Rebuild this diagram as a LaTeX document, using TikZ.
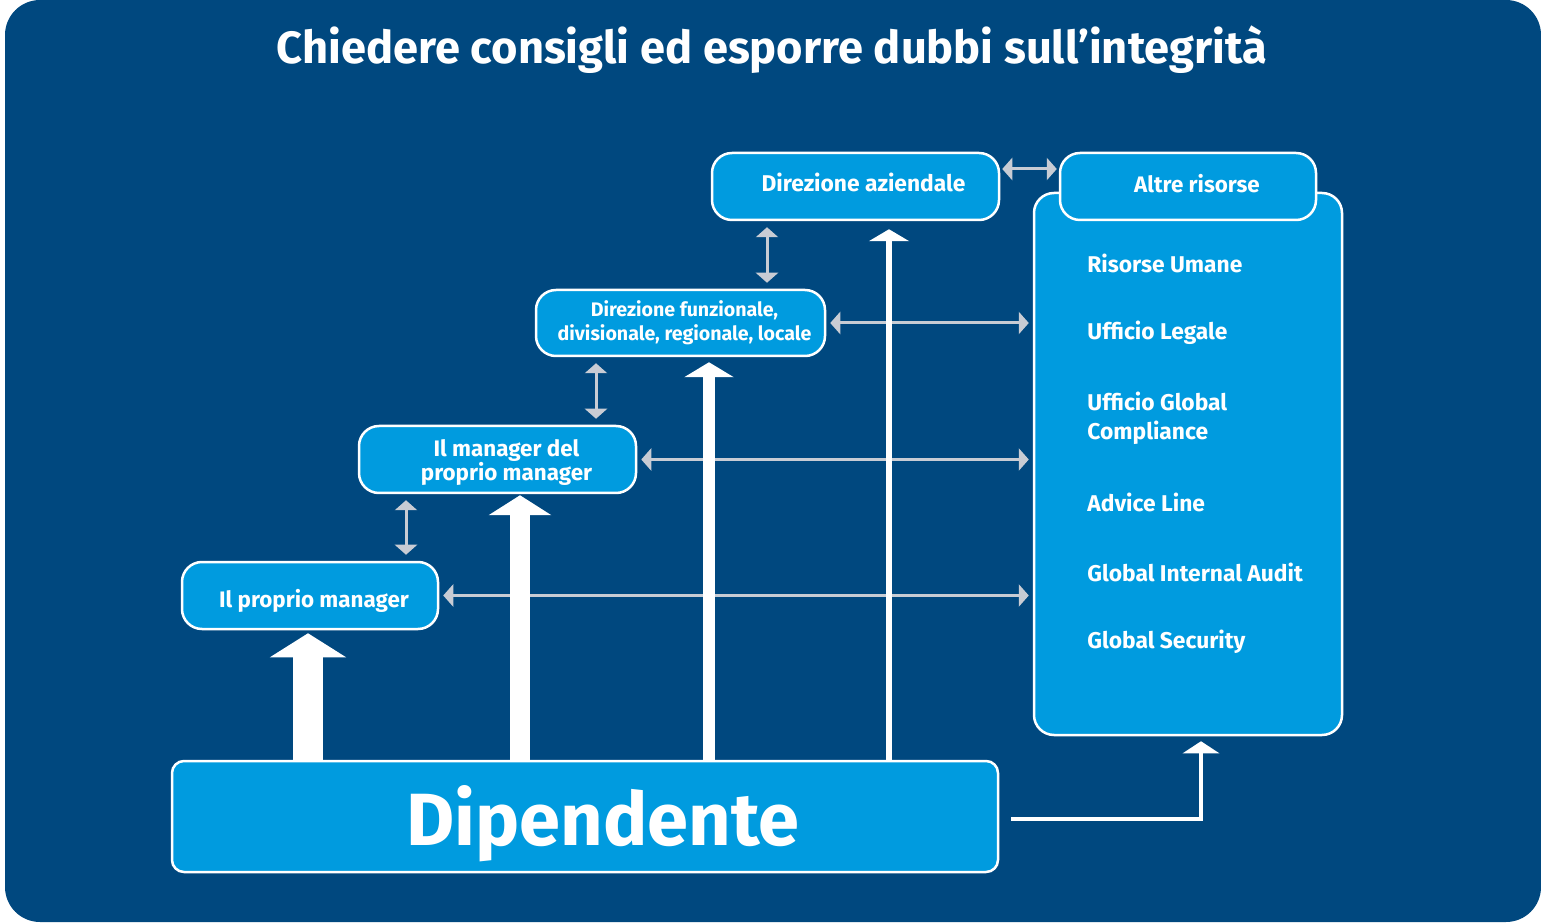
\documentclass[tikz,border=0pt]{standalone}
\usepackage{fontspec}
\setmainfont{Fira Sans}
\usetikzlibrary{arrows.meta}
\usetikzlibrary{calc}
\definecolor{sonydark}{HTML}{00487F}
\definecolor{sonylight}{HTML}{009BDF}
\definecolor{arrowgray}{HTML}{C8CCD4}
\tikzset{
    box/.style={draw=white,line width=1.25pt,fill=sonylight,rounded corners=10pt,text=white,font=\bfseries,align=center,inner sep=0pt},
    item/.style={text=white,font=\bfseries\fontsize{11.4}{14.5}\selectfont,align=left,anchor=west,inner sep=0pt},
    twoway/.style={arrowgray,line width=1.5pt,{Triangle[width=11pt,length=5pt]}-{Triangle[width=11pt,length=5pt]},shorten <=2pt,shorten >=2pt},
    bigup/.style n args={3}{white,line width=#1,-{Triangle[width=#2,length=#3]}}
}

\begin{document}
\begin{tikzpicture}[x=0.5pt,y=-0.5pt]
    	\useasboundingbox (0,0) rectangle (1541,924);
    	\fill[sonydark,rounded corners=17.5pt] (5,0) rectangle (1541,922);

    	\node[text=white,font=\bfseries\fontsize{22.6}{26}\selectfont,anchor=base] (title) at (772,64) {Chiedere consigli ed esporre dubbi sull’integrità};

    	% boxes
    	\node[box,minimum width=154pt,minimum height=271pt] (res) at (1188,464) {};
    	\node[box,minimum width=128pt,minimum height=33.5pt,text height=6.5pt,text depth=0pt,font=\bfseries\fontsize{11.2}{13}\selectfont] (altre) at (1188,186.5) {\hspace{9pt}Altre risorse};
    	\node[box,minimum width=143.5pt,minimum height=33.5pt,text height=5.5pt,text depth=0pt,font=\bfseries\fontsize{11.4}{13}\selectfont] (dirAz) at (855.5,186.5) {\hspace{8pt}Direzione aziendale};
    	\node[box,minimum width=144.5pt,minimum height=33pt,font=\bfseries\fontsize{9.8}{12}\selectfont] (dirFun) at (680.5,323) {\hspace{4pt}Direzione funzionale,\\\hspace{4pt}divisionale, regionale, locale};
    	\node[box,minimum width=138.5pt,minimum height=33.5pt,font=\bfseries\fontsize{11.2}{12}\selectfont] (mgrMgr) at (497.5,459.5) {\hspace{9pt}\rule{0pt}{11.5pt}Il manager del\\\hspace{9pt}proprio manager};
    	\node[box,minimum width=128pt,minimum height=33.5pt,text height=11.5pt,text depth=0pt,font=\bfseries\fontsize{11.2}{12}\selectfont] (mgr) at (310,595.5) {\hspace{4pt}Il proprio manager};
    	\node[box,minimum width=413pt,minimum height=55.5pt,text height=28.5pt,text depth=0pt,rounded corners=6pt,font=\bfseries\fontsize{37}{40}\selectfont] (dip) at (585,816.5) {\hspace{18pt}Dipendente};

    	\node[item] (hr) at (1087,263) {Risorse Umane};
    	\node[item] (legal) at (1087,333) {Ufficio Legale};
    	\node[item] (gc) at (1087,418.5) {Ufficio Global\\Compliance};
    	\node[item] (advice) at (1087,502) {Advice Line};
    	\node[item] (audit) at (1087,572) {Global Internal Audit};
    	\node[item] (security) at (1087,642) {Global Security};

    	\coordinate (xa) at (767,0);
    	\coordinate (xb) at (596,0);
    	\coordinate (xc) at (406,0);
    	\coordinate (x1) at (308,0);
    	\coordinate (x2) at (520,0);
    	\coordinate (x3) at (709,0);
    	\coordinate (x4) at (889,0);
    	\coordinate (xr) at (1201,0);

    	% gray links
    	\draw[twoway,shorten <=1pt,shorten >=1pt] (dirAz.east |- 0,169) -- (altre.west |- 0,169);
    	\draw[twoway,shorten <=3pt,shorten >=3pt] (dirFun.north -| xa) -- (dirAz.south -| xa);
    	\draw[twoway,shorten <=3pt,shorten >=3pt] (mgrMgr.north -| xb) -- (dirFun.south -| xb);
    	\draw[twoway,shorten <=3pt,shorten >=3pt] (mgr.north -| xc) -- (mgrMgr.south -| xc);
    	\draw[twoway] (dirFun.east) -- (dirFun.east -| res.west);
    	\draw[twoway] (mgrMgr.east) -- (mgrMgr.east -| res.west);
    	\draw[twoway] (mgr.east) -- (mgr.east -| res.west);

    	% white arrows
    	\draw[bigup={15pt}{37.5pt}{12pt},shorten >=1.5pt] (dip.north -| x1) -- (mgr.south -| x1);
    	\draw[bigup={10pt}{31pt}{10pt},shorten >=0.5pt] (dip.north -| x2) -- (mgrMgr.south -| x2);
    	\draw[bigup={6pt}{24.5pt}{7.5pt},shorten >=2.5pt] (dip.north -| x3) -- (dirFun.south -| x3);
    	\draw[bigup={3pt}{20pt}{6pt},shorten >=4pt] (dip.north -| x4) -- (dirAz.south -| x4);
    	\draw[bigup={2pt}{18pt}{6pt},shorten >=2.5pt] ([xshift=6pt,yshift=-1pt]dip.east) -| (res.south -| xr);

    	\end{tikzpicture}
\end{document}
